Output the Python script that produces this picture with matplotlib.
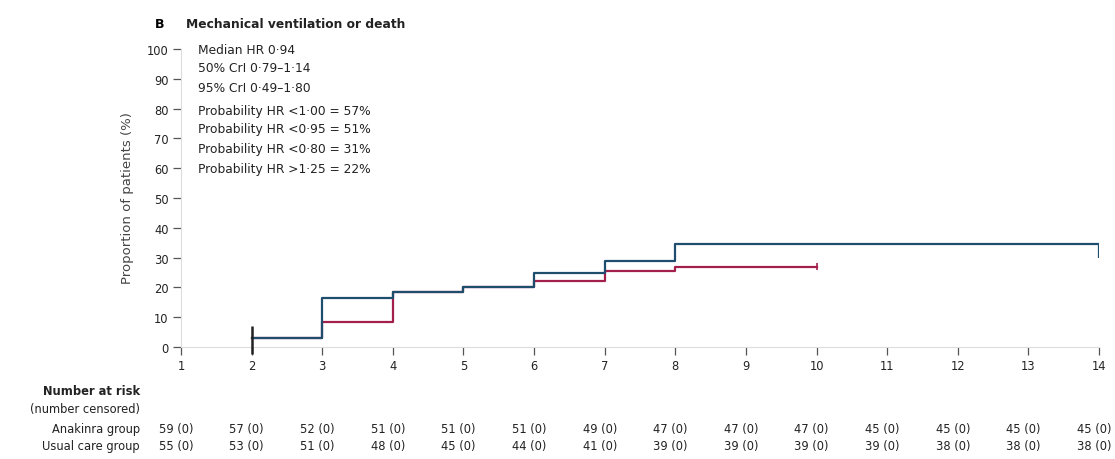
import numpy as np
import matplotlib.pyplot as plt

plt.rcParams['font.family'] = ['DejaVu Sans']

# Cumulative event curves (%), step changes by day
days_a = [2, 3, 4, 5, 6, 7, 8, 14]
event_a = [3.0, 16.5, 18.5, 20.0, 25.0, 29.0, 34.5, 34.5]
days_b = [2, 3, 4, 5, 6, 7, 8, 10]
event_b = [3.0, 8.5, 18.5, 20.0, 22.0, 25.5, 27.0, 27.0]

legend_lines = [
    "Median HR 0·94",
    "50% CrI 0·79–1·14",
    "95% CrI 0·49–1·80",
    "Probability HR <1·00 = 57%",
    "Probability HR <0·95 = 51%",
    "Probability HR <0·80 = 31%",
    "Probability HR >1·25 = 22%",
]

tick_days = list(range(1, 15))
yticks = list(range(0, 101, 10))

group_names = ["Anakinra group", "Usual care group"]
at_risk_a = [59, 57, 52, 51, 51, 51, 49, 47, 47, 47, 45, 45, 45, 45]
at_risk_b = [55, 53, 51, 48, 45, 44, 41, 39, 39, 39, 39, 38, 38, 38]
censored_a = [0] * 14
censored_b = [0] * 14

blue = "#1f4d6e"
red = "#a31f4c"
ink = "#222222"

W, H = 1115, 460
x0, x1 = 181, 1099
y0, y1 = 348, 50

fig = plt.figure(figsize=(W / 100, H / 100), dpi=100)
ax = fig.add_axes([x0 / W, 1 - y0 / H, (x1 - x0) / W, (y0 - y1) / H])

ax.step(days_b, event_b, where="post", color=red, lw=1.6, zorder=3)
ax.step(days_a, event_a, where="post", color=blue, lw=1.6, zorder=4)

# censoring / end-of-follow-up marks
ax.vlines(days_a[0], -2.4, 7.0, color=ink, lw=1.8, zorder=5, clip_on=False)
ax.vlines(days_a[-1], event_a[-1] - 4.5, event_a[-1], color=blue, lw=1.6, zorder=5)
ax.vlines(days_b[-1], event_b[-1] - 1.2, event_b[-1] + 1.2, color=red, lw=1.2, zorder=5)

ax.set_xlim(1, 14)
ax.set_ylim(0, 100)
ax.set_xticks(tick_days)
ax.set_yticks(yticks)
ax.tick_params(axis="both", labelsize=8.3, colors="#555555", labelcolor=ink,
               length=6, width=0.9, pad=3)
for side in ["top", "right"]:
    ax.spines[side].set_visible(False)
for side in ["left", "bottom"]:
    ax.spines[side].set_color("#dddddd")
    ax.spines[side].set_linewidth(0.8)

fig.text(127 / W, 1 - 198 / H, "Proportion of patients (%)", fontsize=9.5,
         color="#444444", rotation=90, ha="center", va="center")

# legend text block
legend_y = [50, 69, 89, 111, 130, 150, 170]
for line, ypix in zip(legend_lines, legend_y):
    fig.text(198 / W, 1 - ypix / H, line, fontsize=8.8, color=ink, va="center", ha="left")

fig.text(160 / W, 1 - 25 / H, "B", fontsize=9, fontweight="bold", va="center",
         ha="center")
fig.text(186 / W, 1 - 25 / H, "Mechanical ventilation or death", fontsize=8.8,
         fontweight="bold", va="center", color=ink)

# number at risk table
def x_fig(day):
    return (x0 + (day - 1) * (x1 - x0) / 13) / W

fig.text(140 / W, 1 - 392 / H, "Number at risk", fontsize=8.3, fontweight="bold",
         ha="right", va="center", color=ink)
fig.text(140 / W, 1 - 410 / H, "(number censored)", fontsize=8.3,
         ha="right", va="center", color=ink)
rows = [(group_names[0], at_risk_a, censored_a, 430),
        (group_names[1], at_risk_b, censored_b, 447)]
for name, risk, cens, ypix in rows:
    fig.text(140 / W, 1 - ypix / H, name, fontsize=8.3, ha="right", va="center",
             color=ink)
    for d, n, c in zip(tick_days, risk, cens):
        fig.text(x_fig(d) - 5 / W, 1 - ypix / H, f"{n} ({c})", fontsize=8.3,
                 ha="center", va="center", color=ink)

fig.savefig("out.png", dpi=100)
